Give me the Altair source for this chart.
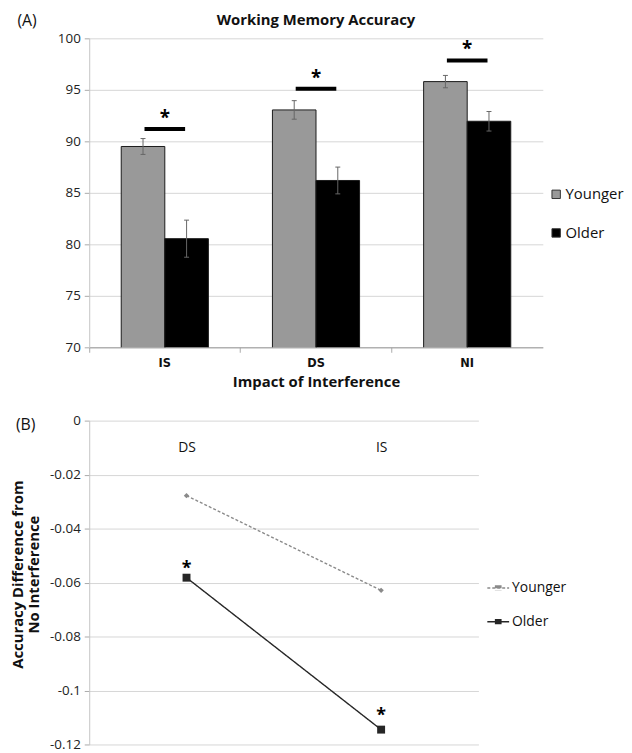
import altair as alt
import pandas as pd

# ---------------- data ----------------
categories_a = ["IS", "DS", "NI"]
groups = ["Younger", "Older"]
younger_acc = [89.5, 93.05, 95.8]
older_acc = [80.55, 86.2, 91.95]
younger_err = [0.77, 0.9, 0.6]
older_err = [1.8, 1.3, 0.95]
sig_bar = [91.2, 95.1, 97.85]
sig_star = [92.6, 96.5, 99.3]

categories_b = ["DS", "IS"]
younger_diff = [-0.0278, -0.0629]
older_diff = [-0.0582, -0.1145]
star_b = [-0.053, -0.1076]

y_ticks_a = [70, 75, 80, 85, 90, 95, 100]
y_ticks_b = [0, -0.02, -0.04, -0.06, -0.08, -0.1, -0.12]

# ---------------- tables ----------------
rows = []
for i, c in enumerate(categories_a):
    rows.append(dict(cat=c, group="Younger", acc=younger_acc[i],
                     lo=younger_acc[i] - younger_err[i], hi=younger_acc[i] + younger_err[i]))
    rows.append(dict(cat=c, group="Older", acc=older_acc[i],
                     lo=older_acc[i] - older_err[i], hi=older_acc[i] + older_err[i]))
df_a = pd.DataFrame(rows)
df_sig = pd.DataFrame(dict(cat=categories_a, bar=sig_bar, star=sig_star))

rows_b = []
for i, c in enumerate(categories_b):
    rows_b.append(dict(cat=c, series="Younger", val=younger_diff[i]))
    rows_b.append(dict(cat=c, series="Older", val=older_diff[i]))
df_b = pd.DataFrame(rows_b)
df_star_b = pd.DataFrame(dict(cat=categories_b, star=star_b))

GRID = "#d6d6d6"
FONT = "Open Sans"

# ---------------- panel A ----------------
W_A, H_A = 458, 312

x_a = alt.X("cat:N", sort=categories_a,
            scale=alt.Scale(paddingInner=0, paddingOuter=0),
            axis=alt.Axis(title="Impact of Interference", labelAngle=0,
                          labelFont="DejaVu Sans", labelFontWeight="bold",
                          labelFontSize=11.5, labelColor="#111",
                          bandPosition=0,
                          tickSize=5, tickColor="#aaaaaa",
                          domainColor="#9a9a9a", labelPadding=5,
                          titleFont=FONT, titleFontSize=15, titleFontWeight="bold",
                          titleColor="#111", titlePadding=6, grid=False))
x_a_plain = alt.X("cat:N", sort=categories_a)

xoff = alt.XOffset("group:N", sort=groups,
                   scale=alt.Scale(paddingInner=0, paddingOuter=0.735))

y_a = alt.Y("acc:Q", scale=alt.Scale(domain=[70, 100], nice=False, zero=False),
            axis=alt.Axis(values=y_ticks_a,
                          title="(A)", titleAngle=0, titleX=-73, titleY=-18,
                          titleAlign="left", titleBaseline="middle",
                          titleFontSize=16, titleFontWeight="normal", titleColor="#111",
                          labelFontSize=13.5, labelColor="#222", labelPadding=4,
                          tickSize=5, tickColor="#aaaaaa", domainColor="#c4c4c4",
                          gridColor=GRID))

bars = alt.Chart(df_a).mark_bar(stroke="#1a1a1a", strokeWidth=1, clip=True).encode(
    x=x_a, xOffset=xoff, y=y_a,
    color=alt.Color("group:N", sort=groups,
                    scale=alt.Scale(domain=groups, range=["#999999", "#000000"]),
                    legend=alt.Legend(title=None, orient="none", legendX=464, legendY=150,
                                      symbolType="square", symbolSize=72,
                                      symbolStrokeColor="#333333", symbolStrokeWidth=1,
                                      labelFontSize=15, labelColor="#111",
                                      labelOffset=2, rowPadding=23, padding=0)),
)

err_rule = alt.Chart(df_a).mark_rule(color="#666666", strokeWidth=1).encode(
    x=x_a_plain, xOffset=xoff, y="lo:Q", y2="hi:Q")

err_caps = alt.Chart(df_a).transform_fold(["lo", "hi"], as_=["end", "v"]).mark_tick(
    color="#666666", size=5, thickness=1, opacity=1).encode(
    x=x_a_plain, xOffset=xoff, y="v:Q")

sig = alt.Chart(df_sig).mark_tick(color="black", thickness=4, size=41, opacity=1).encode(
    x=x_a_plain, y="bar:Q")

stars = alt.Chart(df_sig).mark_text(text="*", fontSize=19, fontWeight="bold",
                                    baseline="alphabetic", dy=10, color="black").encode(
    x=x_a_plain, y="star:Q")

panel_a = alt.layer(bars, err_rule, err_caps, sig, stars).properties(
    width=W_A, height=H_A,
    title=alt.TitleParams("Working Memory Accuracy", font=FONT, fontSize=15,
                          fontWeight="bold", anchor="middle", frame="group",
                          baseline="alphabetic", offset=-28, color="#111"))

# ---------------- panel B ----------------
W_B, H_B = 393, 327

x_b = alt.X("cat:N", sort=categories_b, scale=alt.Scale(type="point", padding=0.5),
            axis=alt.Axis(orient="top", title=None, domain=False, ticks=False,
                          tickSize=0, labelPadding=-27, labelBaseline="middle",
                          labelAngle=0, labelFontSize=14, labelColor="#111", grid=False))
x_b_plain = alt.X("cat:N", sort=categories_b)

y_b = alt.Y("val:Q", scale=alt.Scale(domain=[-0.12, 0], nice=False, zero=False),
            axis=alt.Axis(values=y_ticks_b, labelExpr="'' + datum.value",
                          title=["Accuracy Difference from", "No Interference"],
                          titleX=-64, titleY=155, titleFontSize=15, titleFontWeight="bold",
                          titleLineHeight=16, titleColor="#111",
                          labelFontSize=13.5, labelColor="#222", labelPadding=4,
                          tickSize=5, tickColor="#aaaaaa", domainColor="#c4c4c4",
                          gridColor=GRID))

series_colors = ["#8a8a8a", "#262626"]
series_color = alt.Scale(domain=groups, range=series_colors)
legend_symbol = ("M-1,0L1,0"
                 "M-0.24,-0.24L-0.24,0.24M-0.12,-0.24L-0.12,0.24M0,-0.24L0,0.24"
                 "M0.12,-0.24L0.12,0.24M0.24,-0.24L0.24,0.24")
legend_b = alt.Legend(title=None, orient="none", legendX=401, legendY=157,
                      symbolType=legend_symbol,
                      symbolSize=484, symbolStrokeWidth=1.5,
                      labelFontSize=14, labelColor="#111", labelOffset=2,
                      rowPadding=15, padding=0)

lines = alt.Chart(df_b).mark_line(strokeWidth=1.4).encode(
    x=x_b, y=y_b,
    color=alt.Color("series:N", sort=groups, scale=series_color, legend=legend_b),
    strokeDash=alt.StrokeDash("series:N", sort=groups,
                              scale=alt.Scale(domain=groups, range=[[3, 2], [1, 0]]),
                              legend=legend_b),
)

pts_young = alt.Chart(df_b).transform_filter(alt.datum.series == "Younger").mark_point(
    filled=True, opacity=1, shape="diamond", size=30, color=series_colors[0]).encode(
    x=x_b_plain, y="val:Q")

pts_old = alt.Chart(df_b).transform_filter(alt.datum.series == "Older").mark_point(
    filled=True, opacity=1, shape="square", size=64, color=series_colors[1]).encode(
    x=x_b_plain, y="val:Q")

stars_b = alt.Chart(df_star_b).mark_text(text="*", fontSize=18, fontWeight="bold",
                                         baseline="alphabetic", dy=10, color="black").encode(
    x=x_b_plain, y="star:Q")

panel_b = alt.layer(lines, pts_young, pts_old, stars_b).properties(
    width=W_B, height=H_B,
    title=alt.TitleParams("(B)", font=FONT, fontSize=16, fontWeight="normal",
                          anchor="start", frame="group", baseline="middle",
                          offset=0, dx=-74, dy=27, color="#111"))

chart = alt.vconcat(panel_a, panel_b, spacing=74, bounds="flush").resolve_scale(
    color="independent", x="independent", y="independent",
    strokeDash="independent"
).resolve_legend(
    color="independent", strokeDash="independent"
).properties(padding={"left": 3, "top": 1, "right": 0, "bottom": 0}).configure(
    font=FONT
).configure_view(stroke=None).configure_axis(labelFont=FONT, titleFont=FONT)

chart.save("out.html", embed_options={"renderer": "svg", "actions": False})
